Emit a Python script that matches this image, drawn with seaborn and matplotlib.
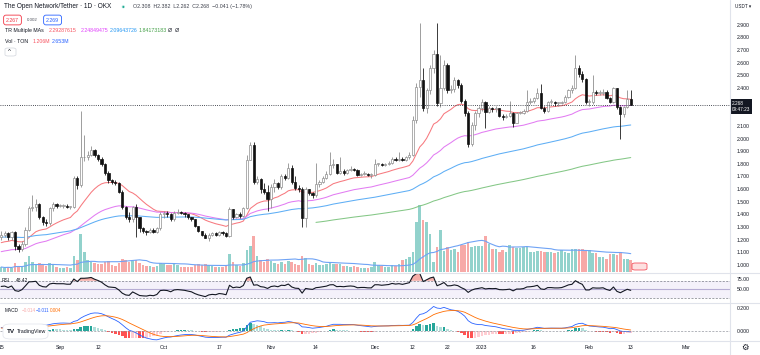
import numpy as np
import pandas as pd
import matplotlib
matplotlib.use("Agg")
import matplotlib.pyplot as plt
from matplotlib.lines import Line2D
from matplotlib.patches import FancyBboxPatch
import seaborn as sns

# TON/USDT daily candles (OKX), Aug 15 2022 .. Feb 13 2023
first_open = 1.22
close = [1.24, 1.25, 1.22, 1.26, 1.15, 1.13, 1.17, 1.28, 1.45, 1.46,
         1.48, 1.38, 1.34, 1.33, 1.45, 1.48, 1.47, 1.47, 1.47, 1.46,
         1.46, 1.69, 1.63, 1.85, 1.85, 1.87, 1.91, 1.87, 1.84, 1.80,
         1.73, 1.67, 1.66, 1.65, 1.58, 1.46, 1.38, 1.36, 1.46, 1.38,
         1.29, 1.27, 1.26, 1.28, 1.26, 1.29, 1.40, 1.41, 1.40, 1.36,
         1.41, 1.42, 1.41, 1.40, 1.38, 1.36, 1.31, 1.27, 1.24, 1.21,
         1.24, 1.25, 1.24, 1.26, 1.25, 1.23, 1.44, 1.38, 1.40, 1.39,
         1.45, 1.83, 1.95, 1.66, 1.68, 1.60, 1.58, 1.52, 1.62, 1.65,
         1.62, 1.70, 1.69, 1.77, 1.66, 1.61, 1.60, 1.37, 1.60, 1.57,
         1.55, 1.64, 1.66, 1.69, 1.72, 1.79, 1.80, 1.73, 1.74, 1.73,
         1.75, 1.76, 1.75, 1.71, 1.72, 1.72, 1.71, 1.71, 1.80, 1.80,
         1.79, 1.80, 1.81, 1.84, 1.83, 1.84, 1.83, 1.85, 1.87, 2.15,
         2.41, 2.46, 2.24, 2.38, 2.56, 2.67, 2.28, 2.40, 2.58, 2.38,
         2.39, 2.46, 2.42, 2.30, 2.20, 1.96, 2.11, 2.20, 2.24, 2.29,
         2.21, 2.24, 2.23, 2.24, 2.18, 2.17, 2.18, 2.20, 2.12, 2.20,
         2.20, 2.22, 2.29, 2.30, 2.32, 2.36, 2.24, 2.22, 2.29, 2.29,
         2.28, 2.28, 2.29, 2.33, 2.38, 2.40, 2.56, 2.51, 2.47, 2.29,
         2.29, 2.37, 2.36, 2.36, 2.37, 2.32, 2.29, 2.40, 2.25, 2.19,
         2.25, 2.309, 2.268]
high = [1.27, 1.27, 1.26, 1.27, 1.27, 1.17, 1.19, 1.30, 1.47, 1.55,
        1.52, 1.49, 1.39, 1.36, 1.46, 1.50, 1.49, 1.48, 1.48, 1.48,
        1.47, 1.70, 1.70, 2.22, 2.03, 1.90, 1.94, 1.92, 1.88, 1.85,
        1.81, 1.74, 1.68, 1.67, 1.66, 1.59, 1.47, 1.42, 1.47, 1.48,
        1.38, 1.30, 1.28, 1.29, 1.29, 1.30, 1.42, 1.43, 1.43, 1.41,
        1.43, 1.44, 1.43, 1.42, 1.40, 1.38, 1.36, 1.31, 1.27, 1.25,
        1.25, 1.26, 1.26, 1.27, 1.27, 1.26, 1.46, 1.44, 1.41, 1.42,
        1.46, 1.87, 1.97, 1.97, 1.70, 1.69, 1.65, 1.63, 1.64, 1.68,
        1.66, 1.72, 1.72, 1.81, 1.79, 1.70, 1.63, 1.62, 1.62, 1.60,
        1.58, 1.81, 1.67, 1.70, 1.74, 1.89, 1.84, 1.80, 1.85, 1.76,
        1.76, 1.78, 1.77, 1.76, 1.73, 1.74, 1.73, 1.73, 1.84, 1.81,
        1.81, 1.81, 1.82, 1.85, 1.85, 1.89, 1.85, 1.86, 1.89, 2.18,
        2.44, 2.91, 2.56, 2.40, 2.58, 2.70, 2.91, 2.66, 2.62, 2.60,
        2.42, 2.49, 2.47, 2.44, 2.31, 2.22, 2.13, 2.22, 2.26, 2.31,
        2.30, 2.26, 2.25, 2.26, 2.24, 2.19, 2.19, 2.30, 2.21, 2.21,
        2.22, 2.23, 2.38, 2.32, 2.33, 2.40, 2.43, 2.26, 2.30, 2.31,
        2.30, 2.29, 2.30, 2.34, 2.39, 2.42, 2.66, 2.58, 2.53, 2.48,
        2.31, 2.50, 2.38, 2.38, 2.39, 2.38, 2.33, 2.41, 2.40, 2.26,
        2.26, 2.38, 2.382]
low = [1.20, 1.22, 1.20, 1.20, 1.12, 1.10, 1.11, 1.15, 1.27, 1.43,
       1.43, 1.36, 1.32, 1.31, 1.32, 1.43, 1.45, 1.46, 1.45, 1.45,
       1.44, 1.45, 1.60, 1.62, 1.82, 1.83, 1.86, 1.85, 1.82, 1.78,
       1.71, 1.65, 1.64, 1.63, 1.57, 1.44, 1.36, 1.34, 1.34, 1.22,
       1.26, 1.25, 1.24, 1.25, 1.25, 1.25, 1.28, 1.37, 1.38, 1.35,
       1.35, 1.40, 1.40, 1.38, 1.36, 1.35, 1.30, 1.26, 1.23, 1.21,
       1.19, 1.23, 1.23, 1.23, 1.24, 1.22, 1.22, 1.36, 1.37, 1.37,
       1.38, 1.44, 1.83, 1.64, 1.64, 1.57, 1.56, 1.43, 1.45, 1.58,
       1.60, 1.60, 1.67, 1.68, 1.64, 1.59, 1.58, 1.30, 1.30, 1.55,
       1.53, 1.54, 1.62, 1.65, 1.68, 1.71, 1.77, 1.72, 1.72, 1.71,
       1.72, 1.74, 1.74, 1.70, 1.70, 1.71, 1.70, 1.69, 1.70, 1.78,
       1.78, 1.78, 1.79, 1.80, 1.82, 1.82, 1.82, 1.82, 1.84, 1.86,
       2.12, 2.33, 2.22, 2.20, 2.35, 2.52, 2.26, 2.25, 2.38, 2.36,
       2.36, 2.37, 2.40, 2.28, 2.18, 1.93, 1.94, 2.07, 2.17, 2.22,
       2.08, 2.20, 2.21, 2.21, 2.17, 2.15, 2.16, 2.17, 2.09, 2.12,
       2.19, 2.19, 2.21, 2.27, 2.28, 2.31, 2.23, 2.20, 2.21, 2.27,
       2.26, 2.26, 2.27, 2.28, 2.32, 2.36, 2.39, 2.49, 2.45, 2.27,
       2.26, 2.27, 2.34, 2.34, 2.34, 2.31, 2.28, 2.28, 2.23, 2.00,
       2.17, 2.24, 2.262]
# volume in millions of TON
volume = [0.5, 0.4, 0.5, 0.4, 0.9, 0.6, 0.5, 1.0, 1.6, 1.0,
          0.8, 0.9, 0.7, 0.6, 0.9, 0.8, 0.5, 0.4, 0.4, 0.5,
          0.4, 1.6, 1.2, 3.8, 2.0, 1.2, 1.0, 0.9, 0.8, 0.8,
          1.0, 1.1, 0.7, 0.6, 0.9, 1.3, 1.2, 1.0, 1.1, 1.2,
          0.9, 0.7, 0.6, 0.6, 0.5, 0.6, 0.9, 0.8, 0.7, 0.7,
          0.8, 0.7, 0.5, 0.5, 0.5, 0.5, 0.7, 0.8, 0.7, 0.8,
          0.7, 0.6, 0.5, 0.5, 0.5, 0.6, 1.8, 1.0, 0.7, 0.6,
          0.9, 2.2, 2.6, 3.6, 1.6, 1.2, 1.0, 1.3, 1.1, 0.9,
          0.8, 1.0, 0.8, 1.1, 1.0, 0.8, 0.7, 1.6, 1.4, 0.8,
          0.7, 0.9, 0.7, 0.7, 0.8, 1.0, 0.8, 0.8, 0.8, 0.6,
          0.6, 0.5, 0.6, 0.5, 0.4, 0.4, 0.4, 0.5, 1.0, 0.7,
          0.6, 0.5, 0.5, 0.7, 0.6, 0.8, 1.2, 1.3, 1.5, 2.0,
          5.0, 6.7, 5.2, 5.0, 3.8, 1.0, 2.5, 4.2, 2.1, 2.5,
          2.2, 2.3, 2.0, 2.7, 2.7, 3.0, 2.5, 2.6, 2.6, 2.6,
          3.6, 2.8, 2.3, 2.3, 2.0, 2.2, 2.0, 2.7, 2.5, 2.4,
          2.4, 2.5, 2.5, 2.0, 2.0, 2.1, 2.1, 2.0, 2.0, 2.0,
          1.9, 2.0, 2.2, 2.0, 1.9, 2.3, 2.3, 2.3, 2.3, 2.2,
          2.2, 1.9, 1.9, 1.5, 1.5, 1.3, 1.8, 1.8, 1.7, 2.0,
          1.3, 1.3, 1.206]

# moving averages: lengths, level at the first shown bar, first bar drawn
ma_lengths = [20, 50, 100, 200]
ma_seeds = [1.17, 1.10, 1.22, 1.334]
ma_first_day = [0, 0, 0, 91]
ma_colors = ['#f7797f', '#e27cf2', '#5eaef5', '#84c786']

rsi_seed_gain, rsi_seed_loss = 0.022, 0.018
macd_seed12, macd_seed26, macd_seed_signal = 1.23, 1.20, 0.025

tick_days = [0, 17, 28, 47, 63, 78, 91, 108, 119, 129, 139, 154, 170, 182, 198]
tick_labels = ['15', 'Sep', '12', 'Oct', '17', 'Nov', '14', 'Dec', '12', '22',
               '2023', '16', 'Feb', '13', 'Mar']
# 2.200 / 2.300 sit under the last-price tag, so they are not listed
price_ticks = [1.0, 1.1, 1.2, 1.3, 1.4, 1.5, 1.6, 1.7, 1.8, 1.9,
               2.0, 2.1, 2.4, 2.5, 2.6, 2.7, 2.8, 2.9]
rsi_ticks = [50, 75]
macd_ticks = [0.0, 0.2]
last_price = 2.268

# ---------------------------------------------------------------------------
df = pd.DataFrame({'close': close, 'high': high, 'low': low, 'vol': volume})
df['day'] = np.arange(len(df))
df['open'] = [first_open] + close[:-1]
df['up'] = df['close'] >= df['open']
day = df['day'].to_numpy()
n = len(df)


def ema(values, span, seed):
    a = 2.0 / (span + 1)
    out, prev = [], seed
    for v in values:
        prev = prev + a * (v - prev)
        out.append(prev)
    return np.array(out)


# RSI 14 (Wilder)
ag, al, rsi = rsi_seed_gain, rsi_seed_loss, []
prev_c = first_open
for c in close:
    ch = c - prev_c
    ag = (ag * 13 + max(ch, 0)) / 14
    al = (al * 13 + max(-ch, 0)) / 14
    rsi.append(100 - 100 / (1 + ag / al))
    prev_c = c
rsi = np.array(rsi)

macd = ema(close, 12, macd_seed12) - ema(close, 26, macd_seed26)
signal = ema(macd, 9, macd_seed_signal)
hist = macd - signal
hist_colors = []
for i, h in enumerate(hist):
    p = hist[i - 1] if i else h
    if h >= 0:
        hist_colors.append('#26a69a' if h > p else '#b2dfdb')
    else:
        hist_colors.append('#ffcdd2' if h > p else '#ff5252')

# ---------------------------------------------------------------------------
sns.set_theme(style="white")
plt.rcParams['font.family'] = ['Liberation Sans', 'DejaVu Sans']

W, H = 760, 355
PR = 730
fig = plt.figure(figsize=(W / 100, H / 100), dpi=100)
fig.patch.set_facecolor('white')


def fx(x):
    return x / W


def fy(y):
    return 1 - y / H


ax = fig.add_axes([0, fy(273), fx(PR), 273 / H])
ax_rsi = fig.add_axes([0, fy(303), fx(PR), 30 / H], sharex=ax)
ax_macd = fig.add_axes([0, fy(341), fx(PR), 38 / H], sharex=ax)
axv = ax.twinx()
ax.set_zorder(axv.get_zorder() + 1)
ax.patch.set_visible(False)

# volume
vol_col = np.where(df['up'], '#92d2cc', '#f7a9a7')
axv.bar(day, df['vol'], width=0.74, color=vol_col, linewidth=0)
sns.lineplot(x=day, y=df['vol'].rolling(20, min_periods=1).mean().to_numpy(),
             ax=axv, color='#6fa3f5', lw=0.8, legend=False)
axv.set_ylim(-0.1, 27.2)
axv.set_yticks([])

# moving averages
for length, seed, d0, col in zip(ma_lengths, ma_seeds, ma_first_day, ma_colors):
    vals = np.full(n, np.nan)
    vals[d0:] = ema(close[d0:], length, seed)
    sns.lineplot(x=day, y=vals, ax=ax, color=col, lw=0.75, legend=False, zorder=2)

# candles
o = df['open'].to_numpy()
c = df['close'].to_numpy()
up = df['up'].to_numpy()
hi = np.maximum(df['high'].to_numpy(), np.maximum(o, c))
lo = np.minimum(df['low'].to_numpy(), np.minimum(o, c))
ax.vlines(day, lo, hi, colors=np.where(up, '#8e8e8e', '#1b1b1b'), lw=0.6, zorder=3)
ax.bar(day, np.maximum(np.abs(c - o), 0.006), bottom=np.minimum(o, c), width=0.64,
       color=np.where(up, 'white', '#111111'),
       edgecolor=np.where(up, '#8e8e8e', '#111111'), linewidth=0.5, zorder=4)

ax.axhline(last_price, color='#131722', lw=0.6, ls=(0, (1, 1.6)), zorder=5)
ax.set_xlim(-0.35, 210.7)
ax.set_ylim(0.9368, 3.0949)
ax.yaxis.tick_right()
ax.set_yticks(price_ticks, [f'{t:.3f}' for t in price_ticks])
ax.tick_params(axis='y', length=0, pad=5, labelsize=3.7, labelcolor='#131722')
ax.tick_params(axis='x', length=0, labelbottom=False)
ax.text(1.0025, 2.253, f'{last_price:.3f}\n09:47:23', transform=ax.get_yaxis_transform(),
        ha='left', va='center', fontsize=3.4, color='white', linespacing=1.1,
        bbox=dict(boxstyle='square,pad=0.45', fc='#131722', ec='none'), zorder=10, clip_on=False)

# RSI
ax_rsi.axhspan(30, 70, color='#7e57c2', alpha=0.08, lw=0)
for lvl in (70, 30):
    ax_rsi.axhline(lvl, color='#787b86', lw=0.5, ls=(0, (3, 2)))
ax_rsi.axhline(50, color='#9c90c4', lw=0.8, alpha=0.7)
ax_rsi.fill_between(day, 70, rsi, where=rsi > 70, interpolate=True, color='#f28b82', alpha=0.7, lw=0)
ax_rsi.fill_between(day, 30, rsi, where=rsi < 30, interpolate=True, color='#7fcfc4', alpha=0.5, lw=0)
sns.lineplot(x=day, y=rsi, ax=ax_rsi, color='#131722', lw=0.8, legend=False)
ax_rsi.set_ylim(17.5, 88.4)
ax_rsi.yaxis.tick_right()
ax_rsi.set_yticks(rsi_ticks, [f'{t:.2f}' for t in rsi_ticks])
ax_rsi.tick_params(axis='y', length=0, pad=5, labelsize=3.7, labelcolor='#131722')
ax_rsi.tick_params(axis='x', length=0, labelbottom=False)

# MACD
ax_macd.bar(day, hist, width=0.74, color=hist_colors, linewidth=0)
sns.lineplot(x=day, y=macd, ax=ax_macd, color='#2962ff', lw=0.6, legend=False)
sns.lineplot(x=day, y=signal, ax=ax_macd, color='#ff6d00', lw=0.6, legend=False)
ax_macd.axhline(0, color='#9598a1', lw=0.5, ls=(0, (3, 2)))
ax_macd.set_ylim(-0.087, 0.243)
ax_macd.yaxis.tick_right()
ax_macd.set_yticks(macd_ticks, [f'{t:.3f}' for t in macd_ticks])
ax_macd.tick_params(axis='y', length=0, pad=5, labelsize=3.7, labelcolor='#131722')
ax_macd.set_xticks(tick_days, tick_labels)
ax_macd.tick_params(axis='x', length=0, pad=3.2, labelsize=3.7, labelcolor='#131722')

for a in (ax, axv, ax_rsi, ax_macd):
    for sp in a.spines.values():
        sp.set_visible(False)
    a.set_xlabel('')
    a.set_ylabel('')

# pane separators and price-scale border
sep = '#e0e3eb'
for yy in (273, 303, 341):
    fig.add_artist(Line2D([0, 1], [fy(yy), fy(yy)], color=sep, lw=0.8, transform=fig.transFigure))
fig.add_artist(Line2D([fx(PR), fx(PR)], [0, 1], color=sep, lw=0.8, transform=fig.transFigure))


def ftext(x, y, txt, size=3.8, color='#131722', **kw):
    fig.text(fx(x), fy(y), txt, fontsize=size, color=color, ha='left', va='center', **kw)


# legend block
ftext(4, 6.7, 'The Open Network/Tether · 1D · OKX', size=4.7)
ftext(120.5, 6.7, '●', size=5.5, color='#c8ece6')
ftext(121.6, 6.7, '●', size=3.3, color='#22ab94')
ftext(133, 6.7, 'O2.308  H2.382  L2.262  C2.268  −0.041 (−1.78%)', size=3.8, color='#3c3f4a')
ftext(6, 20, '2.267', size=3.8, color='#f23645',
      bbox=dict(boxstyle='round,pad=0.45', fc='white', ec='#f23645', lw=0.6))
ftext(27, 20, '0.002', size=3.2, color='#50535e')
ftext(46, 20, '2.269', size=3.8, color='#2962ff',
      bbox=dict(boxstyle='round,pad=0.45', fc='white', ec='#2962ff', lw=0.6))
ftext(5, 30.7, 'TR Multiple MAs', size=3.8)
for xx, txt, col in zip([49, 81, 110, 139], ['2.29287615', '2.24849475', '2.09643726', '1.84173183'],
                        ['#f7525f', '#e040fb', '#2196f3', '#43a047']):
    ftext(xx, 30.7, txt, size=3.8, color=col)
ftext(168, 30.7, 'Ø  Ø', size=3.8)
ftext(5, 41.7, 'Vol · TON', size=3.8)
ftext(33, 41.7, '1.206M', size=3.8, color='#f7525f')
ftext(52, 41.7, '2.653M', size=3.8, color='#2962ff')
fig.add_artist(FancyBboxPatch((fx(5), fy(56)), fx(11), 8 / H, boxstyle='round,pad=0,rounding_size=0.004',
                              fc='white', ec='#d1d4dc', lw=0.5, transform=fig.transFigure))
ftext(8, 51.5, '^', size=4.5)

ftext(2, 280, 'RSI', size=3.5)
ftext(16, 280, '48.42', size=3.5)
ftext(5, 310.7, 'MACD', size=3.4)
ftext(22, 310.7, '−0.014', size=3.3, color='#f7a9a8')
ftext(36, 310.7, '−0.011', size=3.3, color='#2962ff')
ftext(50, 310.7, '0.004', size=3.3, color='#ff6d00')

# TradingView badge
fig.add_artist(FancyBboxPatch((fx(3), fy(339)), fx(45), 15 / H, boxstyle='round,pad=0,rounding_size=0.01',
                              fc='white', ec='#e0e3eb', lw=0.5, transform=fig.transFigure))
ftext(6.5, 331.5, 'TV', size=4.6, weight='bold')
ftext(17, 331.5, 'TradingView', size=3.8)

# event marker pill
fig.add_artist(FancyBboxPatch((fx(632), fy(270)), fx(15), 7 / H, boxstyle='round,pad=0,rounding_size=0.004',
                              fc='#fde0e0', ec='#f23645', lw=0.5, transform=fig.transFigure))

ftext(735, 6, 'USDT ▾', size=3.3)
ftext(741, 348.5, '⚙', size=6, color='#131722')

fig.savefig('out.png', dpi=100, facecolor='white')
